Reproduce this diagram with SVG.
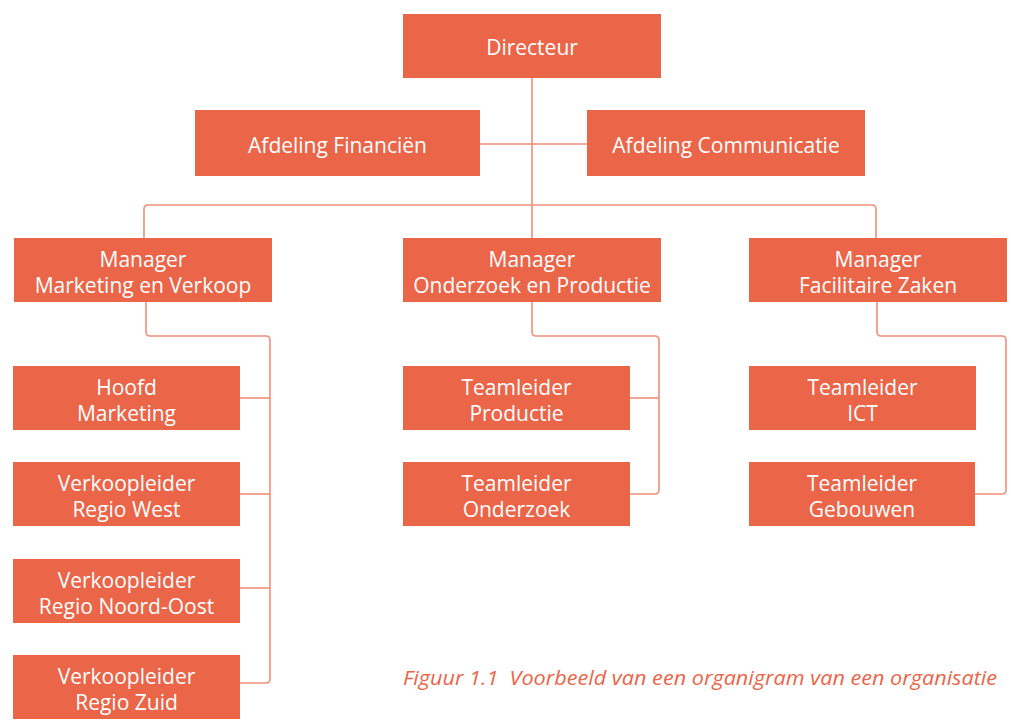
<svg xmlns="http://www.w3.org/2000/svg" width="1011" height="722" viewBox="0 0 1011 722">
  <style>
    .box { fill: #EB6549; }
    .lbl { font-family: "Open Sans", Lato, "Liberation Sans", sans-serif; font-size: 21px; fill: #ffffff; text-anchor: middle; font-variant-ligatures: none; }
    .wire { fill: none; stroke: #F08E78; stroke-width: 1.6; }
    .cap { font-family: "Open Sans", Lato, "Liberation Sans", sans-serif; font-size: 20px; font-style: italic; fill: #EB6549; font-variant-ligatures: none; }
  </style>
  <rect width="1011" height="722" fill="#ffffff"/>

  <!-- connectors -->
  <g id="connectors" class="wire">
    <path d="M532,78 V238"/>
    <path d="M480,144 H587"/>
    <path d="M144,238 V209 Q144,205 148,205 H872 Q876,205 876,209 V238"/>
    <!-- Marketing en Verkoop -->
    <path d="M146,302 V332 Q146,336 150,336 H266 Q270,336 270,340 V679 Q270,683 266,683 H240"/>
    <path d="M240,398 H270"/>
    <path d="M240,494 H270"/>
    <path d="M240,588 H270"/>
    <!-- Onderzoek en Productie -->
    <path d="M532,302 V332 Q532,336 536,336 H655 Q659,336 659,340 V490 Q659,494 655,494 H630"/>
    <path d="M630,398 H659"/>
    <!-- Facilitaire Zaken -->
    <path d="M877,302 V332 Q877,336 881,336 H1002 Q1006,336 1006,340 V490 Q1006,494 1002,494 H975"/>
  </g>

  <g id="directeur">
    <rect class="box" x="403" y="14" width="258" height="64"/>
    <text class="lbl" x="532" y="55">Directeur</text>
  </g>
  <g id="financien">
    <rect class="box" x="195" y="110" width="285" height="66"/>
    <text class="lbl" x="337.5" y="153">Afdeling Financiën</text>
  </g>
  <g id="communicatie">
    <rect class="box" x="587" y="110" width="278" height="66"/>
    <text class="lbl" x="726" y="153">Afdeling Communicatie</text>
  </g>

  <g id="manager-mv">
    <rect class="box" x="14" y="238" width="258" height="64"/>
    <text class="lbl" x="143" y="267">Manager</text>
    <text class="lbl" x="143" y="293">Marketing en Verkoop</text>
  </g>
  <g id="manager-op">
    <rect class="box" x="403" y="238" width="258" height="64"/>
    <text class="lbl" x="532" y="267">Manager</text>
    <text class="lbl" x="532" y="293">Onderzoek en Productie</text>
  </g>
  <g id="manager-fz">
    <rect class="box" x="749" y="238" width="258" height="64"/>
    <text class="lbl" x="878" y="267">Manager</text>
    <text class="lbl" x="878" y="293">Facilitaire Zaken</text>
  </g>

  <g id="hoofd-marketing">
    <rect class="box" x="13" y="366" width="227" height="64"/>
    <text class="lbl" x="126.5" y="395">Hoofd</text>
    <text class="lbl" x="126.5" y="421">Marketing</text>
  </g>
  <g id="regio-west">
    <rect class="box" x="13" y="462" width="227" height="64"/>
    <text class="lbl" x="126.5" y="491">Verkoopleider</text>
    <text class="lbl" x="126.5" y="517">Regio West</text>
  </g>
  <g id="regio-noord-oost">
    <rect class="box" x="13" y="559" width="227" height="64"/>
    <text class="lbl" x="126.5" y="588">Verkoopleider</text>
    <text class="lbl" x="126.5" y="614">Regio Noord-Oost</text>
  </g>
  <g id="regio-zuid">
    <rect class="box" x="13" y="655" width="227" height="64"/>
    <text class="lbl" x="126.5" y="684">Verkoopleider</text>
    <text class="lbl" x="126.5" y="710">Regio Zuid</text>
  </g>

  <g id="tl-productie">
    <rect class="box" x="403" y="366" width="227" height="64"/>
    <text class="lbl" x="516.5" y="395">Teamleider</text>
    <text class="lbl" x="516.5" y="421">Productie</text>
  </g>
  <g id="tl-onderzoek">
    <rect class="box" x="403" y="462" width="227" height="64"/>
    <text class="lbl" x="516.5" y="491">Teamleider</text>
    <text class="lbl" x="516.5" y="517">Onderzoek</text>
  </g>

  <g id="tl-ict">
    <rect class="box" x="749" y="366" width="227" height="64"/>
    <text class="lbl" x="862.5" y="395">Teamleider</text>
    <text class="lbl" x="862.5" y="421">ICT</text>
  </g>
  <g id="tl-gebouwen">
    <rect class="box" x="749" y="462" width="226" height="64"/>
    <text class="lbl" x="862" y="491">Teamleider</text>
    <text class="lbl" x="862" y="517">Gebouwen</text>
  </g>

  <text class="cap" x="403" y="685" textLength="594" lengthAdjust="spacingAndGlyphs" xml:space="preserve">Figuur 1.1  Voorbeeld van een organigram van een organisatie</text>
</svg>
